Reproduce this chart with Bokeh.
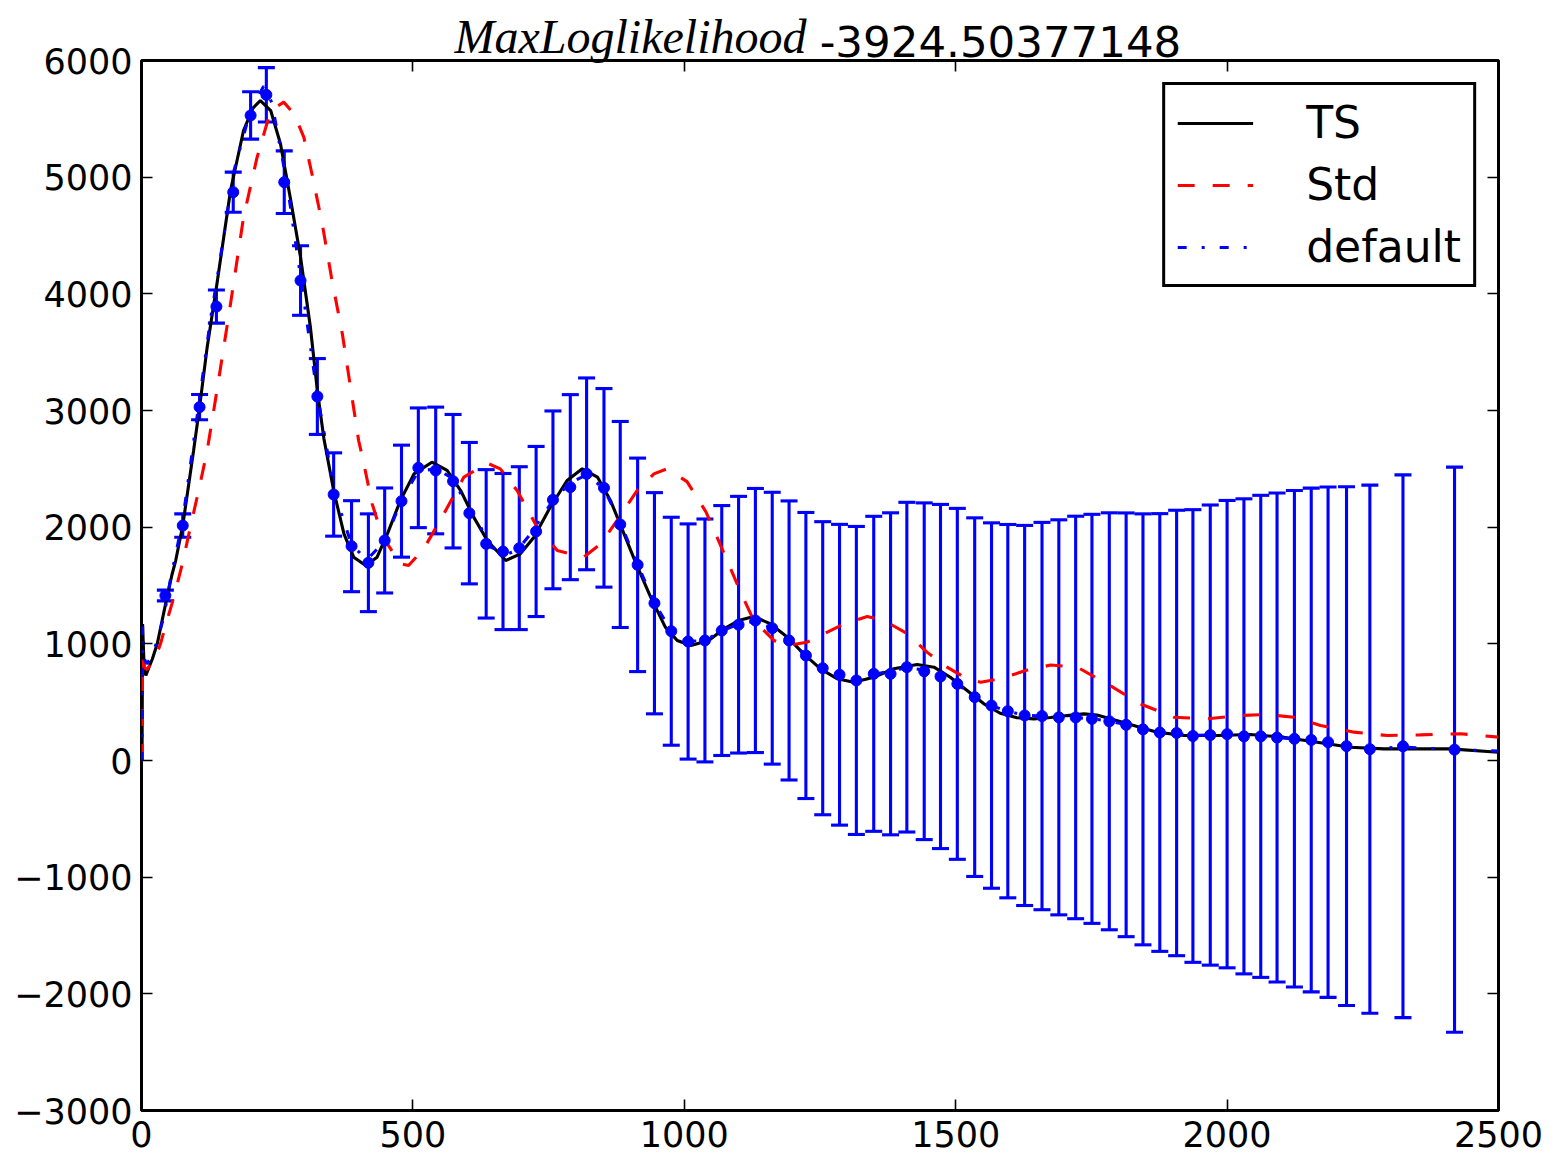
from bokeh.plotting import figure
from bokeh.models import (ColumnDataSource, Whisker, TeeHead, LinearAxis,
                          Range1d, FixedTicker, Legend, LegendItem)
from bokeh.embed import file_html
from bokeh.resources import INLINE

# ---- binned band powers with 1-sigma errors ----
bin_ell = [44, 76, 107, 138, 169, 201, 230, 263, 293, 324, 354, 387, 418, 448, 479,
           510, 542, 574, 604, 635, 666, 696, 727, 758, 790, 820, 852, 882, 914, 945,
           976, 1007, 1038, 1069, 1100, 1131, 1162, 1193, 1224, 1255, 1286, 1317, 1349,
           1380, 1410, 1442, 1472, 1503, 1535, 1566, 1596, 1627, 1659, 1690, 1721, 1751,
           1783, 1814, 1845, 1876, 1907, 1937, 1969, 2000, 2031, 2062, 2092, 2124, 2155,
           2186, 2220, 2263, 2324, 2419]
bin_dl = [1414, 2014, 3029, 3891, 4871, 5529, 5706, 4957, 4114, 3120, 2280, 1837, 1695,
          1886, 2223, 2509, 2486, 2394, 2120, 1857, 1791, 1820, 1963, 2234, 2343, 2457,
          2337, 2023, 1677, 1348, 1108, 1020, 1029, 1114, 1164, 1200, 1134, 1029, 900,
          791, 735, 686, 743, 743, 800, 765, 720, 657, 543, 471, 423, 386, 381, 370, 369,
          357, 336, 306, 267, 240, 236, 210, 218, 226, 207, 207, 197, 186, 176, 157, 123,
          97, 122, 93]
bin_err = [46, 100, 108, 142, 172, 203, 233, 268, 298, 325, 357, 390, 419, 450, 480,
           513, 543, 572, 606, 636, 669, 698, 729, 762, 793, 822, 851, 883, 915, 948,
           977, 1008, 1041, 1071, 1100, 1132, 1165, 1196, 1226, 1256, 1289, 1320, 1350,
           1380, 1413, 1443, 1475, 1504, 1537, 1566, 1600, 1629, 1660, 1693, 1725, 1753,
           1787, 1816, 1847, 1876, 1909, 1940, 1972, 2003, 2036, 2066, 2096, 2128, 2159,
           2187, 2223, 2263, 2326, 2422]

# ---- model spectra ----
ts_ell = [0, 1, 2, 5, 8, 13, 20, 29, 38, 47, 56, 63, 76, 96, 107, 121, 139, 164, 188,
          205, 219, 238, 256, 275, 293, 311, 324, 336, 354, 373, 391, 413, 434, 453,
          477, 502, 535, 563, 588, 612, 637, 671, 698, 723, 753, 784, 812, 840, 864,
          889, 910, 938, 965, 987, 1012, 1045, 1073, 1100, 1128, 1159, 1190, 1220, 1251,
          1282, 1312, 1349, 1386, 1429, 1460, 1490, 1521, 1552, 1582, 1613, 1644, 1675,
          1705, 1736, 1760, 1785, 1828, 1871, 1920, 1982, 2043, 2104, 2166, 2227, 2289,
          2350, 2411, 2500]
ts_dl = [0, 0, 1170, 780, 729, 790, 870, 1000, 1200, 1400, 1590, 1714, 2014, 2657, 3029,
         3543, 4086, 4886, 5400, 5590, 5657, 5571, 5286, 4800, 4314, 3720, 3170, 2760,
         2314, 1943, 1743, 1671, 1743, 1943, 2229, 2457, 2557, 2486, 2314, 2086, 1886,
         1714, 1771, 1914, 2171, 2400, 2500, 2429, 2229, 1943, 1700, 1400, 1143, 1029,
         986, 1029, 1129, 1200, 1234, 1171, 1057, 914, 786, 700, 671, 714, 786, 823,
         800, 714, 600, 486, 405, 366, 357, 368, 385, 400, 390, 357, 300, 243, 214, 214,
         223, 200, 157, 114, 100, 100, 100, 71]

std_ell = [0, 1, 2, 4, 10, 26, 35, 47, 56, 69, 76, 90, 107, 121, 140, 164, 188, 213,
           238, 262, 281, 299, 314, 333, 351, 370, 385, 400, 407, 425, 443, 477, 492,
           520, 557, 594, 637, 661, 692, 729, 766, 815, 846, 876, 913, 944, 968, 1005,
           1040, 1079, 1104, 1128, 1165, 1190, 1226, 1294, 1337, 1368, 1411, 1447, 1484,
           1521, 1546, 1582, 1632, 1675, 1724, 1779, 1840, 1902, 1963, 2025, 2074, 2123,
           2172, 2234, 2295, 2356, 2430, 2500]
std_dl = [0, 0, 880, 800, 780, 886, 1000, 1200, 1343, 1571, 1700, 2000, 2350, 2657,
          3200, 3914, 4657, 5171, 5571, 5643, 5543, 5343, 5029, 4600, 4114, 3657, 3200,
          2743, 2600, 2200, 1929, 1686, 1671, 1814, 2114, 2429, 2549, 2500, 2314, 2000,
          1800, 1743, 1857, 2057, 2314, 2457, 2500, 2390, 2130, 1714, 1440, 1200, 1029,
          986, 1014, 1171, 1234, 1200, 1086, 929, 800, 700, 671, 700, 775, 818, 800,
          657, 486, 371, 357, 386, 394, 371, 300, 243, 214, 220, 229, 200]

def_ell = [0, 1, 2, 5, 10, 20, 29, 41, 53, 76, 107, 127, 139, 170, 200, 225, 240, 268,
           293, 324, 356, 387, 415, 448, 479, 510, 542, 573, 604, 625, 643, 674, 692,
           717, 758, 790, 820, 852, 882, 914, 945, 976, 1007, 1038, 1069, 1100, 1131,
           1162, 1193, 1224, 1255, 1286, 1317, 1349, 1380, 1410, 1442, 1472, 1503, 1535,
           1566, 1596, 1627, 1659, 1690, 1721, 1751, 1783, 1814, 1845, 1876, 1907, 1937,
           1969, 2000, 2031, 2062, 2092, 2124, 2155, 2186, 2220, 2263, 2324, 2419, 2500]
def_dl = [0, 0, 1150, 870, 829, 900, 1029, 1229, 1543, 2060, 3100, 3780, 4120, 5050,
          5560, 5780, 5640, 4950, 4150, 3130, 2290, 1850, 1720, 1880, 2230, 2480, 2500,
          2420, 2150, 2000, 1829, 1771, 1800, 1943, 2230, 2380, 2450, 2330, 2040, 1680,
          1350, 1110, 1020, 1030, 1110, 1170, 1195, 1135, 1030, 900, 790, 735, 700, 735,
          770, 795, 775, 720, 655, 545, 470, 420, 390, 380, 372, 368, 358, 338, 308, 270,
          242, 232, 215, 218, 224, 210, 205, 196, 186, 175, 158, 125, 100, 115, 93, 80]

x_ticks = [0, 500, 1000, 1500, 2000, 2500]
y_ticks = [-3000, -2000, -1000, 0, 1000, 2000, 3000, 4000, 5000, 6000]
title_name = "MaxLoglikelihood"
title_value = "-3924.50377148"
series_names = ["TS", "Std", "default"]

TICK_FONT = "35px"
LW = 3.1

p = figure(frame_width=1357, frame_height=1050,
           x_range=Range1d(0, 2500), y_range=Range1d(-3000, 6000),
           min_border_left=141, min_border_right=54, min_border_top=60,
           min_border_bottom=48, output_backend="svg", toolbar_location=None,
           title=None)
p.background_fill_color = "white"
p.border_fill_color = "white"
p.grid.visible = False
p.outline_line_color = "black"
p.outline_line_width = 3
p.outline_line_alpha = 1


def style_axis(ax, labels=True):
    ax.axis_line_color = None
    ax.major_tick_in = 11
    ax.major_tick_out = 0
    ax.major_tick_line_width = 1.6
    ax.major_tick_line_color = "black"
    ax.minor_tick_line_color = None
    ax.major_label_text_font = "DejaVu Sans"
    if labels:
        ax.major_label_text_color = "black"
        ax.major_label_text_font_size = TICK_FONT
    else:
        ax.major_label_text_color = None
        ax.major_label_text_font_size = "1px"
        ax.major_label_standoff = 0


xb = p.xaxis[0]
xb.ticker = FixedTicker(ticks=x_ticks)
style_axis(xb)
xb.major_label_standoff = 10

yl = p.yaxis[0]
yl.ticker = FixedTicker(ticks=y_ticks)
style_axis(yl)
yl.major_label_standoff = 9
yl.major_label_overrides = {t: str(t).replace("-", "\u2212") for t in y_ticks if t < 0}

xt = LinearAxis(ticker=FixedTicker(ticks=x_ticks))
style_axis(xt, labels=False)
p.add_layout(xt, "above")

yr = LinearAxis(ticker=FixedTicker(ticks=y_ticks))
style_axis(yr, labels=False)
p.add_layout(yr, "right")


# ---- title: two text-only top rows sharing one line ----
def title_axis(pos, text, font, size, style, standoff):
    ax = LinearAxis(ticker=FixedTicker(ticks=[pos]),
                    major_label_overrides={pos: text})
    ax.axis_line_color = None
    ax.major_tick_line_color = None
    ax.minor_tick_line_color = None
    ax.major_tick_in = 0
    ax.major_tick_out = 0
    ax.major_label_text_font = font
    ax.major_label_text_font_size = size
    ax.major_label_text_font_style = style
    ax.major_label_text_color = "black"
    ax.major_label_standoff = standoff
    return ax


name_axis = title_axis(900.9, title_name, "Liberation Serif", "48px", "italic", -2)
p.add_layout(name_axis, "above")
value_axis = title_axis(1582.5, title_value, "DejaVu Sans", "43.5px", "normal", -50)
p.add_layout(value_axis, "above")

# error bars
bins = ColumnDataSource(dict(
    ell=bin_ell, dl=bin_dl,
    lo=[d - e for d, e in zip(bin_dl, bin_err)],
    hi=[d + e for d, e in zip(bin_dl, bin_err)],
))
whisk = Whisker(base="ell", lower="lo", upper="hi", source=bins,
                line_color="blue", line_width=LW,
                lower_head=TeeHead(size=17, line_color="blue", line_width=LW),
                upper_head=TeeHead(size=17, line_color="blue", line_width=LW))
p.add_layout(whisk)

r_ts = p.line(ts_ell, ts_dl, line_color="black", line_width=LW)
r_std = p.line(std_ell, std_dl, line_color="red", line_width=LW, line_dash="17 18")
r_def = p.line(def_ell, def_dl, line_color="blue", line_width=LW, line_dash="9 15 3 15")

p.scatter("ell", "dl", source=bins, size=11, fill_color="blue", line_color="blue")

legend = Legend(items=[LegendItem(label=series_names[0], renderers=[r_ts]),
                       LegendItem(label=series_names[1], renderers=[r_std]),
                       LegendItem(label=series_names[2], renderers=[r_def])],
                location="top_right", margin=22, padding=12, spacing=11,
                label_standoff=53, glyph_width=76, glyph_height=48, label_height=48,
                label_text_font="DejaVu Sans", label_text_font_size="44px",
                label_text_color="black",
                border_line_color="black", border_line_width=3, border_line_alpha=1,
                background_fill_color="white", background_fill_alpha=1)
p.add_layout(legend)

open("out.html", "w").write(file_html(p, INLINE))
